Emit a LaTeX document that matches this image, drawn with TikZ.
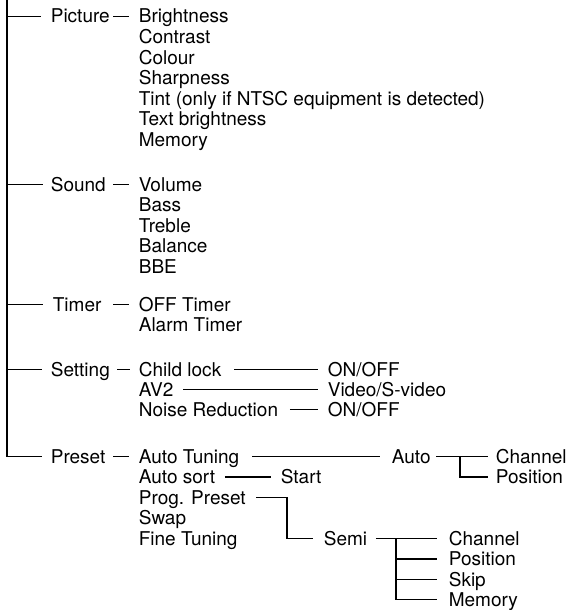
\documentclass[tikz,border=0pt]{standalone}
\usepackage{fontspec}
\setmainfont{TeX Gyre Heros}
\begin{document}
\begin{tikzpicture}[x=1pt,y=-1pt,line width=1.7pt,
  lbl/.style={anchor=base west,inner sep=0pt,text height=13pt,text depth=0pt,font=\fontsize{19}{20}\selectfont}]
\useasboundingbox (0,0) rectangle (571,610);
% level 1
\node[lbl] (pic) at (50,23) {Picture};
\node[lbl] (snd) at (50,191) {Sound};
\node[lbl] (tim) at (52,311) {Timer};
\node[lbl] (set) at (50,376) {Setting};
\node[lbl] (pre) at (50,463) {Preset};
% picture items
\node[lbl] (p1) at (138,23) {Brightness};
\node[lbl] (p2) at (138,43.5) {Contrast};
\node[lbl] (p3) at (138,64) {Colour};
\node[lbl] (p4) at (138,84.5) {Sharpness};
\node[lbl] (p5) at (138,105) {Tint (only if NTSC equipment is detected)};
\node[lbl] (p6) at (138,125.5) {Text brightness};
\node[lbl] (p7) at (138,146) {Memory};
% sound items
\node[lbl] (s1) at (138,191) {Volume};
\node[lbl] (s2) at (138,211.5) {Bass};
\node[lbl] (s3) at (138,232) {Treble};
\node[lbl] (s4) at (138,252.5) {Balance};
\node[lbl] (s5) at (138,273) {BBE};
% timer items
\node[lbl] (t1) at (138,311) {OFF Timer};
\node[lbl] (t2) at (138,331.5) {Alarm Timer};
% setting items
\node[lbl] (cl) at (138,376) {Child lock};
\node[lbl] (av) at (138,396) {AV2};
\node[lbl] (nr) at (138,416) {Noise Reduction};
\node[lbl] (on1) at (327,376) {ON/OFF};
\node[lbl] (vid) at (327,396) {Video/S-video};
\node[lbl] (on2) at (327,416) {ON/OFF};
% preset items
\node[lbl] (at) at (138,463) {Auto Tuning};
\node[lbl] (as) at (138,483.5) {Auto sort};
\node[lbl] (pp) at (138,504) {Prog. Preset};
\node[lbl] (sw) at (138,524.5) {Swap};
\node[lbl] (ft) at (138,545) {Fine Tuning};
\node[lbl] (auto) at (391,463) {Auto};
\node[lbl] (start) at (280,483.5) {Start};
\node[lbl] (semi) at (323,545) {Semi};
\node[lbl] (ach) at (495,463) {Channel};
\node[lbl] (apos) at (495,483.5) {Position};
\node[lbl] (sch) at (448,545) {Channel};
\node[lbl] (spos) at (448,565.5) {Position};
\node[lbl] (sskip) at (448,586) {Skip};
\node[lbl] (smem) at (448,606) {Memory};
% trunk
\coordinate (top) at (7,0);
\draw (top) |- ([xshift=-8pt]pre.west);
\draw (top |- pic.west) -- ([xshift=-9pt]pic.west);
\draw (top |- snd.west) -- ([xshift=-7pt]snd.west);
\draw (top |- tim.west) -- ([xshift=-9pt]tim.west);
\draw (top |- set.west) -- ([xshift=-8pt]set.west);
% dashes
\draw ([xshift=-25pt]p1.west) -- ([xshift=-9pt]p1.west);
\draw ([xshift=-25pt]s1.west) -- ([xshift=-9pt]s1.west);
\draw ([xshift=-25pt]t1.west) -- ([xshift=-9pt]t1.west);
\draw ([xshift=-21pt]cl.west) -- ([xshift=-8pt]cl.west);
\draw ([xshift=-25pt]at.west) -- ([xshift=-9pt]at.west);
% setting connectors
\draw ([xshift=12pt]cl.east) -- ([xshift=-9pt]on1.west);
\draw ([xshift=9pt]av.east) -- ([xshift=-9pt]vid.west);
\draw ([xshift=11pt]nr.east) -- ([xshift=-9pt]on2.west);
% preset connectors
\draw ([xshift=12pt]at.east) -- ([xshift=-11pt]auto.west);
\draw ([xshift=9pt]as.east) -- ([xshift=-9pt]start.west);
\draw ([xshift=9.5pt]pp.east) -| ([xshift=-36pt]semi.west) -- ([xshift=-10pt]semi.west);
\draw ([xshift=5pt]auto.east) -- ([xshift=-7pt]ach.west);
\coordinate (av1) at ([xshift=-35pt]ach.west);
\draw (av1) |- ([xshift=-7pt]apos.west);
\draw ([xshift=8pt]semi.east) -- ([xshift=-11pt]sch.west);
\coordinate (sv) at ([xshift=-52pt]sch.west);
\draw (sv) |- ([xshift=-11pt]smem.west);
\draw (sv |- spos.west) -- ([xshift=-11pt]spos.west);
\draw (sv |- sskip.west) -- ([xshift=-11pt]sskip.west);
\end{tikzpicture}
\end{document}
